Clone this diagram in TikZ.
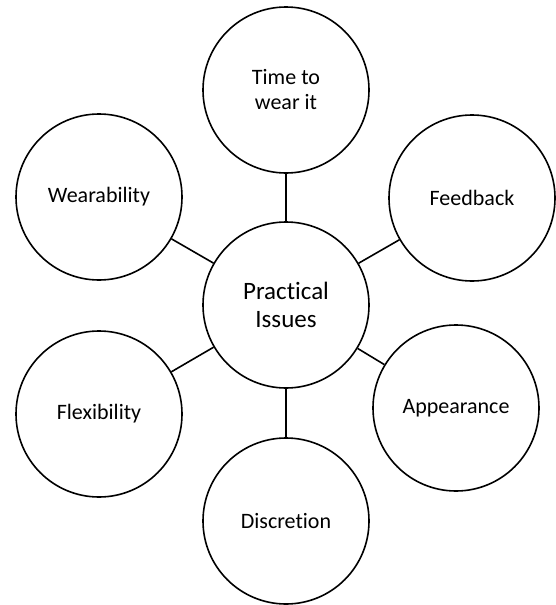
\documentclass[tikz,border=0pt]{standalone}
\usepackage{fontspec}
\setmainfont[Ligatures={NoCommon,NoContextual}]{Carlito}
\usetikzlibrary{positioning}

\begin{document}
\begin{tikzpicture}[x=1pt,y=-1pt,
  issue/.style={draw, line width=1.6pt, circle, minimum size=166pt, inner sep=0pt, align=center, font=\fontsize{22}{25}\selectfont},
  hub/.style={issue, font=\fontsize{25}{28}\selectfont},
  spoke/.style={line width=1.6pt}]
\useasboundingbox (0,0) rectangle (555,605);
\node[hub] (pi) at (286,305) {Practical\\Issues};
\node[issue] (time) at (286,90) {Time to\\wear it};
\node[issue] (wear) at (99,197) {Wearability};
\node[issue] (feed) at (472,198) {Feedback};
\node[issue] (flex) at (99,414) {Flexibility};
\node[issue] (appear) at (456,408) {Appearance};
\node[issue] (disc) at (286,521) {Discretion};
\foreach \n in {time,wear,feed,flex,appear,disc} {
 \draw[spoke] (pi) -- (\n);
}
\end{tikzpicture}
\end{document}
